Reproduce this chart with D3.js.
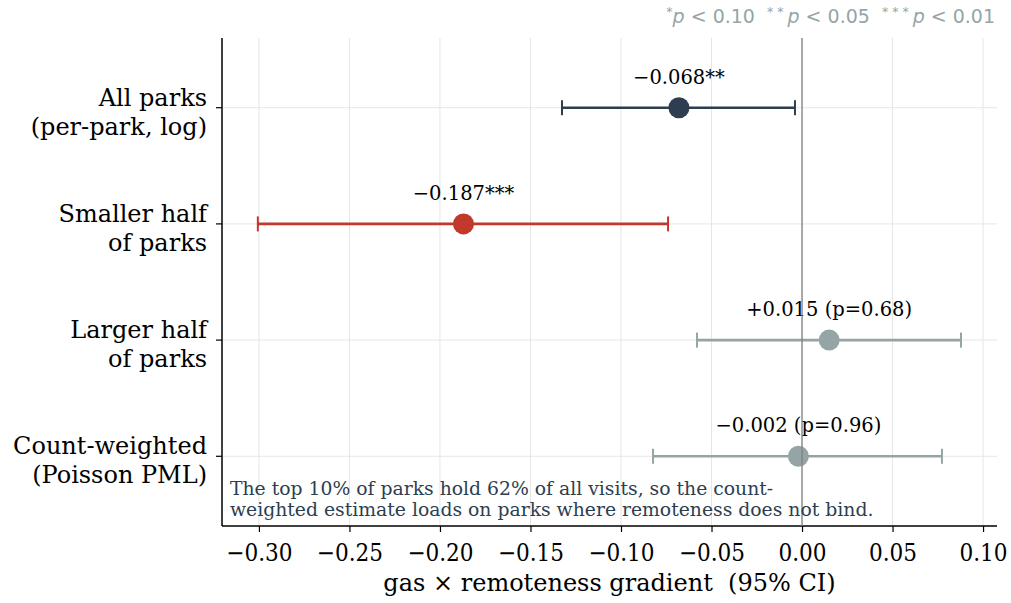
<!DOCTYPE html>
<html>
<head>
<meta charset="utf-8">
<script src="https://cdn.jsdelivr.net/npm/d3@7"></script>
<style>
  body { margin: 0; background: #fff; }
  svg { display: block; }
  text { white-space: pre; }
</style>
</head>
<body>
<div id="chart"></div>
<script>
// chart data
var models = ["All parks\n(per-park, log)", "Smaller half\nof parks", "Larger half\nof parks", "Count-weighted\n(Poisson PML)"];
var estimates = [-0.068, -0.187, 0.015, -0.002];
var ciLow = [-0.1326, -0.3006, -0.058, -0.0823];
var ciHigh = [-0.0039, -0.074, 0.0878, 0.0773];
var pointLabels = ["\u22120.068**", "\u22120.187***", "+0.015 (p=0.68)", "\u22120.002 (p=0.96)"];
var colors = ["#2c3e50", "#c0392b", "#95a5a6", "#95a5a6"];
var xTicks = [-0.30, -0.25, -0.20, -0.15, -0.10, -0.05, 0.00, 0.05, 0.10];

var w = 1011, h = 603;
var margin = {top: 38, right: 14, bottom: 77, left: 222};

var svg = d3.select("#chart").append("svg")
  .attr("width", w)
  .attr("height", h)
  .style("font-family", "'DejaVu Serif', serif");

var x = d3.scaleLinear()
  .domain([-0.3204, 0.1077])
  .range([margin.left, w - margin.right]);

// rows from bottom (0) to top (3)
var y = d3.scaleLinear()
  .domain([-0.6, 3.6])
  .range([h - margin.bottom, margin.top]);

var rowY = function (i) { return y(models.length - 1 - i); };

//grid
svg.append("g").selectAll("line.vg")
  .data(xTicks)
  .enter().append("line")
  .attr("x1", function (d) { return x(d); })
  .attr("x2", function (d) { return x(d); })
  .attr("y1", margin.top)
  .attr("y2", h - margin.bottom)
  .attr("stroke", "#e6e6e6")
  .attr("stroke-width", 1);

svg.append("g").selectAll("line.hg")
  .data(models)
  .enter().append("line")
  .attr("x1", margin.left)
  .attr("x2", w - margin.right)
  .attr("y1", function (d, i) { return rowY(i); })
  .attr("y2", function (d, i) { return rowY(i); })
  .attr("stroke", "#e6e6e6")
  .attr("stroke-width", 1);

//axes
var xAxis = d3.axisBottom(x)
  .tickValues(xTicks)
  .tickSize(6)
  .tickFormat(function (d) { return d3.format(".2f")(d).replace("-", "\u2212"); });

var gx = svg.append("g")
  .attr("transform", "translate(0," + (h - margin.bottom) + ")")
  .call(xAxis);
gx.select(".domain").remove();
gx.selectAll("line").attr("stroke", "#000").attr("stroke-width", 1.2);
gx.selectAll("text")
  .attr("font-family", "'DejaVu Serif Condensed', 'DejaVu Serif', serif")
  .attr("font-size", 24)
  .attr("fill", "#000")
  .attr("y", 18);

svg.append("line")
  .attr("x1", margin.left).attr("x2", w - margin.right)
  .attr("y1", h - margin.bottom).attr("y2", h - margin.bottom)
  .attr("stroke", "#000").attr("stroke-width", 1.5);

svg.append("line")
  .attr("x1", margin.left).attr("x2", margin.left)
  .attr("y1", margin.top).attr("y2", h - margin.bottom)
  .attr("stroke", "#000").attr("stroke-width", 1.5);

//y ticks + labels
var yt = svg.append("g").selectAll("g")
  .data(models)
  .enter().append("g")
  .attr("transform", function (d, i) { return "translate(" + margin.left + "," + rowY(i) + ")"; });

yt.append("line")
  .attr("x1", -6).attr("x2", 0)
  .attr("stroke", "#000").attr("stroke-width", 1.2);

yt.append("text")
  .attr("text-anchor", "end")
  .attr("font-size", 24)
  .attr("fill", "#000")
  .selectAll("tspan")
  .data(function (d) { return d.split("\n"); })
  .enter().append("tspan")
  .attr("x", -15)
  .attr("y", function (d, j) { return j === 0 ? -2 : 27; })
  .text(function (d) { return d; });

//x label
svg.append("text")
  .attr("x", (margin.left + w - margin.right) / 2)
  .attr("y", 591)
  .attr("text-anchor", "middle")
  .attr("font-size", 24)
  .attr("fill", "#000")
  .text("gas \u00d7 remoteness gradient  (95% CI)");

//error bars
var bars = svg.append("g").selectAll("g")
  .data(estimates)
  .enter().append("g");

bars.append("line")
  .attr("x1", function (d, i) { return x(ciLow[i]); })
  .attr("x2", function (d, i) { return x(ciHigh[i]); })
  .attr("y1", function (d, i) { return rowY(i); })
  .attr("y2", function (d, i) { return rowY(i); })
  .attr("stroke", function (d, i) { return colors[i]; })
  .attr("stroke-width", 2.6);

[ciLow, ciHigh].forEach(function (arr) {
  bars.append("line")
    .attr("x1", function (d, i) { return x(arr[i]); })
    .attr("x2", function (d, i) { return x(arr[i]); })
    .attr("y1", function (d, i) { return rowY(i) - 7.5; })
    .attr("y2", function (d, i) { return rowY(i) + 7.5; })
    .attr("stroke", function (d, i) { return colors[i]; })
    .attr("stroke-width", 2);
});

bars.append("circle")
  .attr("cx", function (d) { return x(d); })
  .attr("cy", function (d, i) { return rowY(i); })
  .attr("r", 10.5)
  .attr("fill", function (d, i) { return colors[i]; });

bars.append("text")
  .attr("x", function (d) { return x(d); })
  .attr("y", function (d, i) { return rowY(i) - 24; })
  .attr("text-anchor", "middle")
  .attr("font-size", 19.5)
  .attr("fill", "#000")
  .text(function (d, i) { return pointLabels[i]; });

//zero line
svg.append("line")
  .attr("x1", x(0)).attr("x2", x(0))
  .attr("y1", margin.top).attr("y2", h - margin.bottom)
  .attr("stroke", "#808080")
  .attr("stroke-width", 1.3);

//note
var note = svg.append("text")
  .attr("font-size", 18.8)
  .attr("fill", "#2c3e50");
note.append("tspan").attr("x", 230).attr("y", 495)
  .text("The top 10% of parks hold 62% of all visits, so the count-");
note.append("tspan").attr("x", 230).attr("y", 516)
  .text("weighted estimate loads on parks where remoteness does not bind.");

//significance legend
var leg = svg.append("text")
  .attr("x", 995)
  .attr("y", 23)
  .attr("text-anchor", "end")
  .attr("font-family", "'DejaVu Sans', sans-serif")
  .attr("font-size", 19)
  .attr("fill", "#95a5a6");
[["*", "p", " < 0.10  "], ["* * ", "p", " < 0.05  "], ["* * * ", "p", " < 0.01"]].forEach(function (s) {
  leg.append("tspan").attr("font-size", 12.5).attr("dy", -7).text(s[0]);
  leg.append("tspan").attr("font-style", "italic").attr("dy", 7).text(s[1]);
  leg.append("tspan").text(s[2]);
});
</script>
</body>
</html>
